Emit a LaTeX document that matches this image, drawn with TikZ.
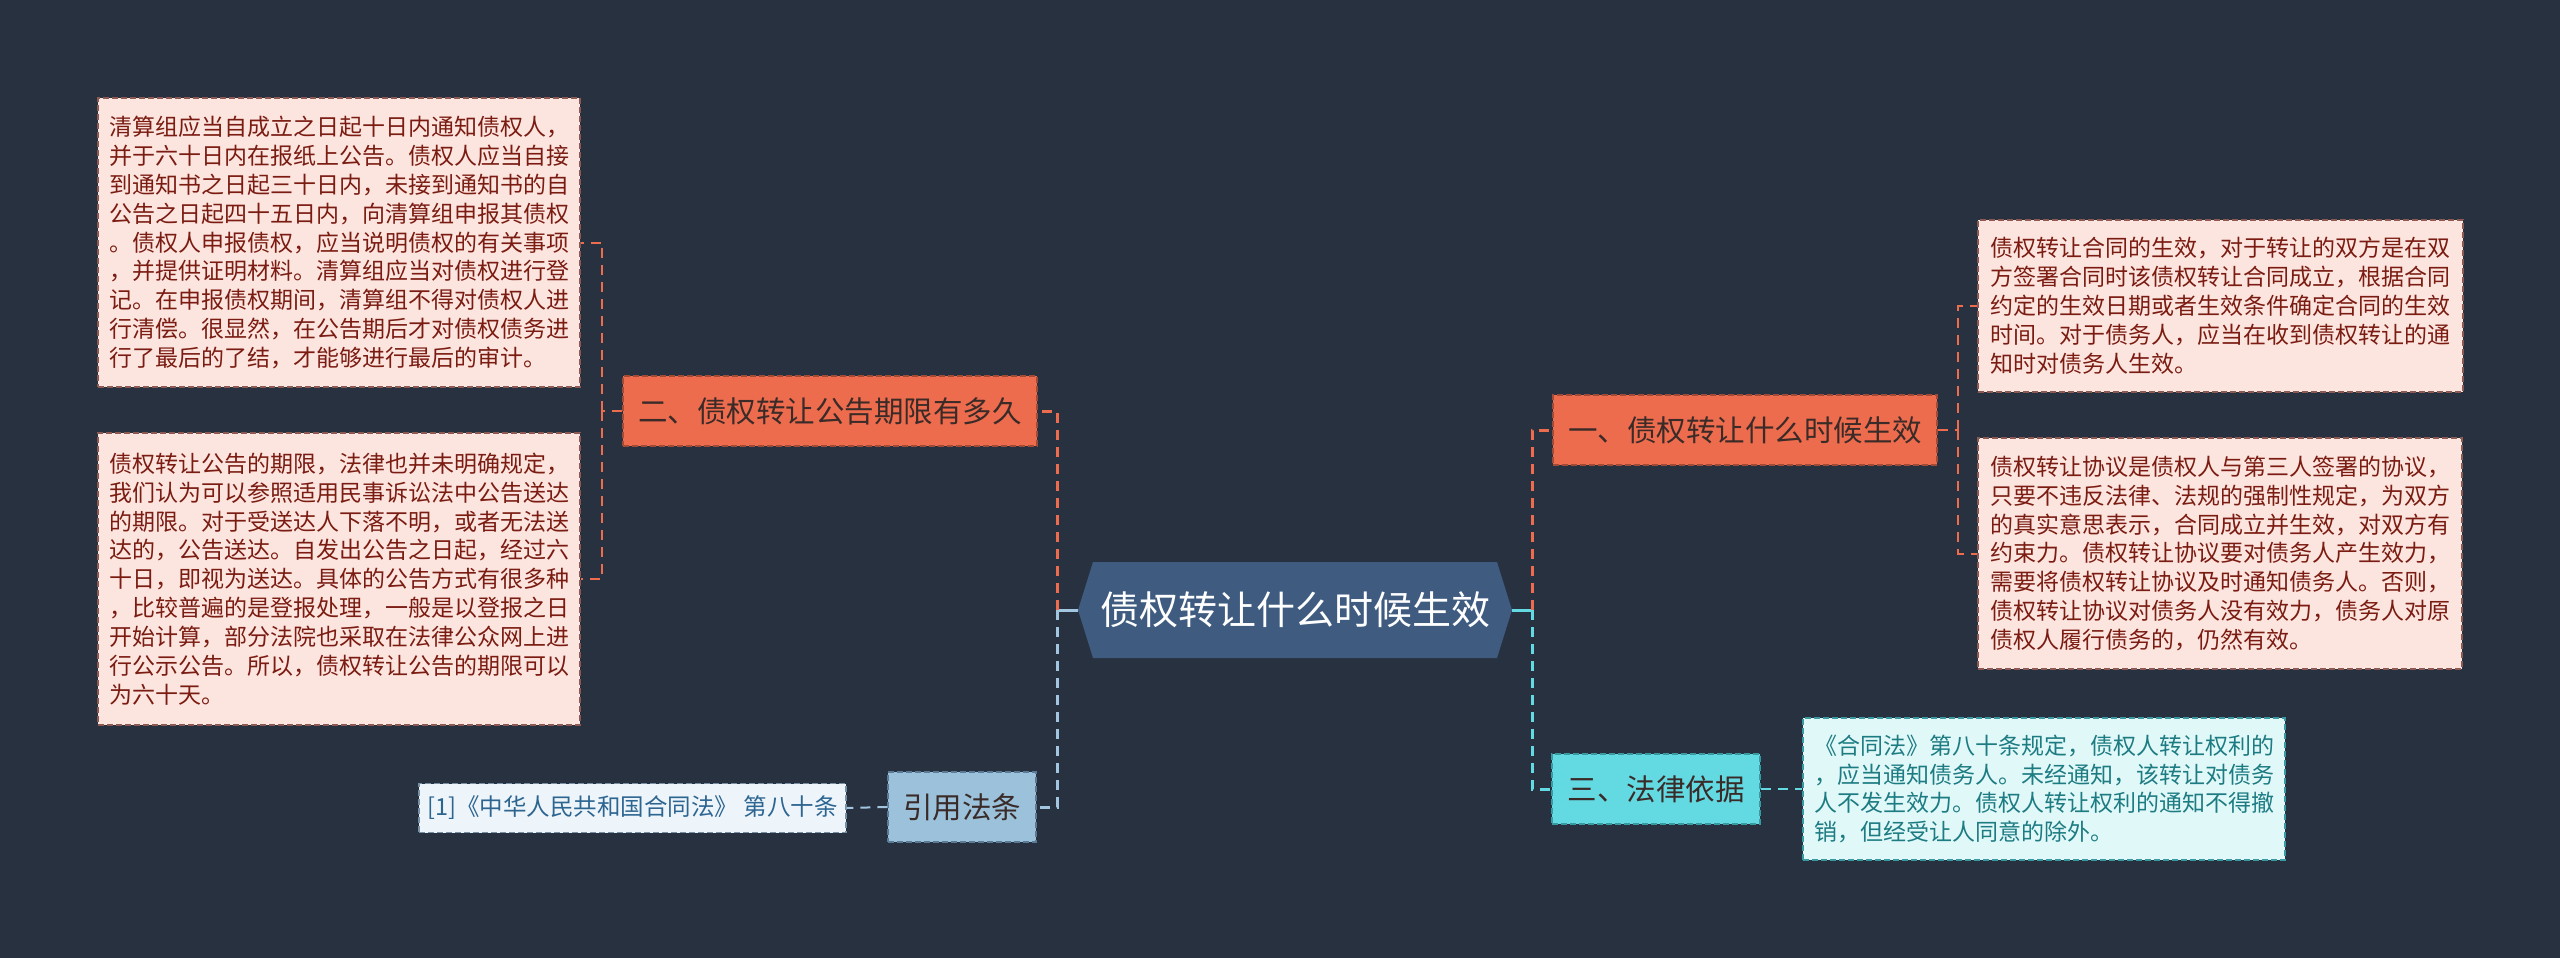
\documentclass[tikz,border=0pt]{standalone}
\usepackage{fontspec}
\newfontfamily\cjk{Noto Sans CJK SC}
\definecolor{bg}{HTML}{283140}
\definecolor{cfill}{HTML}{3F5C80}
\definecolor{orng}{HTML}{EE6C4E}
\definecolor{orngline}{HTML}{A14B37}
\definecolor{darktext}{HTML}{3A2B28}
\definecolor{pinkfill}{HTML}{FDE5DF}
\definecolor{pinkline}{HTML}{8C5A52}
\definecolor{pinktext}{HTML}{7A1C12}
\definecolor{bluefill}{HTML}{9BC1DB}
\definecolor{blueline}{HTML}{5A7A95}
\definecolor{citefill}{HTML}{EDF5FA}
\definecolor{citeline}{HTML}{7890A5}
\definecolor{citetext}{HTML}{2D6591}
\definecolor{cyanfill}{HTML}{63D9E2}
\definecolor{cyanline}{HTML}{3A9AA2}
\definecolor{legalfill}{HTML}{E1F8F9}
\definecolor{legaltext}{HTML}{1D7C82}
\definecolor{linkblue}{HTML}{A3C6E0}
\definecolor{linkcyan}{HTML}{63D9E2}
\begin{document}
\begin{tikzpicture}[x=1pt,y=-1pt,
  boxbase/.style={inner sep=0pt, line width=1.2pt, dash pattern=on 6pt off 3pt, align=left},
  bodytext/.style={font=\cjk\fontsize{23pt}{28.9pt}\selectfont},
  pinkbox/.style={boxbase, bodytext, fill=pinkfill, draw=pinkline, text=pinktext},
  citebox/.style={boxbase, font=\cjk\fontsize{23.5pt}{28pt}\selectfont, fill=citefill, draw=citeline, text=citetext},
  legalbox/.style={boxbase, bodytext, fill=legalfill, draw=cyanline, text=legaltext},
  topicbox/.style={boxbase, font=\cjk\fontsize{29.5pt}{34pt}\selectfont, minimum height=70pt},
  orangebox/.style={topicbox, fill=orng, draw=orngline, text=darktext},
  bluebox/.style={topicbox, fill=bluefill, draw=blueline, text=darktext},
  cyanbox/.style={topicbox, fill=cyanfill, draw=cyanline, text=darktext},
  centertext/.style={inner sep=0pt, font=\cjk\fontsize{39pt}{44pt}\selectfont, text=white, minimum width=434pt, minimum height=95pt},
  linkone/.style={line width=3pt, dash pattern=on 10pt off 7pt},
  linktwo/.style={line width=2pt, dash pattern=on 10pt off 7pt},
  stub/.style={line width=3pt}
]
\useasboundingbox (0,0) rectangle (2560,958);
\fill[bg] (0,0) rectangle (2560,958);

% central hexagon
\fill[cfill] (1078,610) -- (1093,562) -- (1497,562) -- (1512,610) -- (1497,658) -- (1093,658) -- cycle;
\node[centertext] (c) at (1295,610) {债权转让什么时候生效};

% level-one topics
\node[orangebox, minimum width=414pt] (er) at (830,411) {二、债权转让公告期限有多久};
\node[bluebox, minimum width=148pt] (yy) at (962,807) {引用法条};
\node[orangebox, minimum width=384pt] (yi) at (1745,430) {一、债权转让什么时候生效};
\node[cyanbox, minimum width=208pt] (san) at (1656,789) {三、法律依据};

% detail boxes
\node[pinkbox, minimum width=482pt, minimum height=289pt] (lt) at (339,242.5) {清算组应当自成立之日起十日内通知债权人，\\并于六十日内在报纸上公告。债权人应当自接\\到通知书之日起三十日内，未接到通知书的自\\公告之日起四十五日内，向清算组申报其债权\\。债权人申报债权，应当说明债权的有关事项\\，并提供证明材料。清算组应当对债权进行登\\记。在申报债权期间，清算组不得对债权人进\\行清偿。很显然，在公告期后才对债权债务进\\行了最后的了结，才能够进行最后的审计。};
\node[pinkbox, minimum width=482pt, minimum height=292pt] (lb) at (339,579) {债权转让公告的期限，法律也并未明确规定，\\我们认为可以参照适用民事诉讼法中公告送达\\的期限。对于受送达人下落不明，或者无法送\\达的，公告送达。自发出公告之日起，经过六\\十日，即视为送达。具体的公告方式有很多种\\，比较普遍的是登报处理，一般是以登报之日\\开始计算，部分法院也采取在法律公众网上进\\行公示公告。所以，债权转让公告的期限可以\\为六十天。};
\node[citebox, minimum width=427pt, minimum height=49pt] (cite) at (632.5,808) {[1]《中华人民共和国合同法》 第八十条};
\node[pinkbox, minimum width=485pt, minimum height=172pt] (rt) at (2220.5,306) {债权转让合同的生效，对于转让的双方是在双\\方签署合同时该债权转让合同成立，根据合同\\约定的生效日期或者生效条件确定合同的生效\\时间。对于债务人，应当在收到债权转让的通\\知时对债务人生效。};
\node[pinkbox, minimum width=484pt, minimum height=231pt] (rb) at (2220,553.5) {债权转让协议是债权人与第三人签署的协议，\\只要不违反法律、法规的强制性规定，为双方\\的真实意思表示，合同成立并生效，对双方有\\约束力。债权转让协议要对债务人产生效力，\\需要将债权转让协议及时通知债务人。否则，\\债权转让协议对债务人没有效力，债务人对原\\债权人履行债务的，仍然有效。};
\node[legalbox, minimum width=482pt, minimum height=142pt] (legal) at (2044,789) {《合同法》第八十条规定，债权人转让权利的\\，应当通知债务人。未经通知，该转让对债务\\人不发生效力。债权人转让权利的通知不得撤\\销，但经受让人同意的除外。};

% junctions
\coordinate (jl) at (1057,610);
\coordinate (jr) at (1532,610);
\coordinate (j2) at (602,411);
\coordinate (j1) at (1958,430);

% connectors from centre
\draw[stub, draw=linkblue] (c.west) -- (jl);
\draw[linkone, draw=orng] (jl) |- (er.east);
\draw[linkone, draw=linkblue] (jl) |- (yy.east);
\draw[stub, draw=linkcyan] (c.east) -- (jr);
\draw[linkone, draw=orng] (jr) |- (yi.west);
\draw[linkone, draw=linkcyan] (jr) |- (san.west);

% connectors to details
\draw[linktwo, draw=orng] (er.west) -- (j2);
\draw[linktwo, draw=orng] (j2) |- (lt.east);
\draw[linktwo, draw=orng] (j2) |- (lb.east);
\draw[linktwo, draw=orng] (yi.east) -- (j1);
\draw[linktwo, draw=orng] (j1) |- (rt.west);
\draw[linktwo, draw=orng] (j1) |- (rb.west);
\draw[linktwo, draw=linkcyan] (san.east) -- (legal.west);
\draw[linktwo, draw=linkblue] (yy.west) -- (cite.east);
\end{tikzpicture}
\end{document}
